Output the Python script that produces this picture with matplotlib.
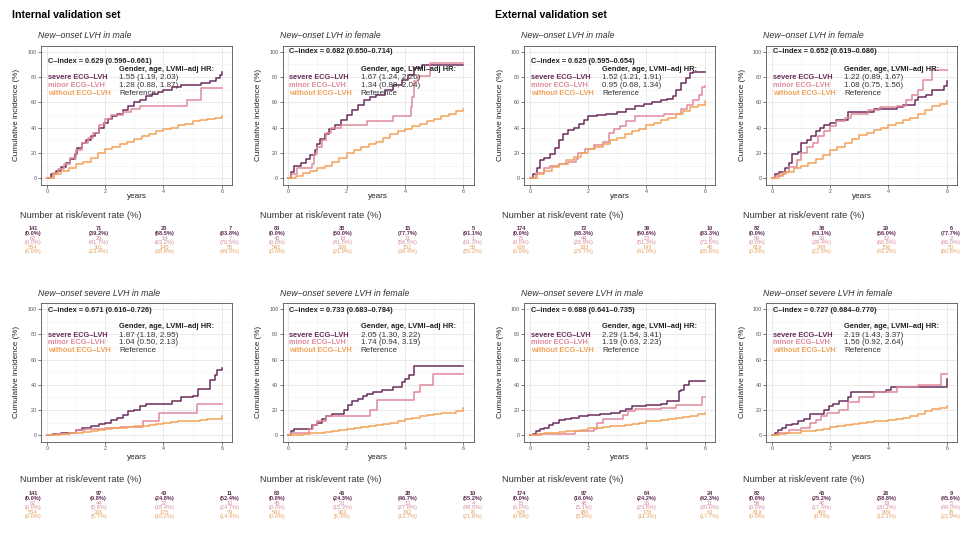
import matplotlib.pyplot as plt
import numpy as np

plt.rcParams['font.family'] = ['Liberation Sans', 'DejaVu Sans']

# quarter-year time grid used for the smooth "without ECG-LVH" curves
quarter_years = np.linspace(0, 6, 25)

# ---- cumulative incidence (%) step curves: (times, values) ----
# Internal, new-onset LVH, male
a_sev = ([0, 0.15, 0.3, 0.5, 0.65, 0.8, 0.95, 1.05, 1.2, 1.35, 1.5, 1.65, 1.8, 1.95, 2.1, 2.25, 2.4, 2.6,
          2.8, 3.0, 3.2, 3.4, 3.6, 3.8, 4.0, 4.3, 4.6, 5.0, 5.3, 5.6, 5.8, 5.95, 6.0],
         [0, 3, 6, 9, 12, 15, 19, 24, 28, 30, 33, 36, 40, 44, 47, 49, 51, 54, 57, 60, 62, 65, 67, 68, 70,
          72, 74, 74, 75, 77, 79, 82, 84])
a_min = ([0, 0.2, 0.4, 0.6, 0.8, 1.0, 1.2, 1.4, 1.6, 1.8, 2.0, 2.2, 2.6, 2.9, 3.2, 4.8, 5.3, 6.0],
         [0, 4, 7, 11, 16, 22, 28, 32, 36, 42, 47, 50, 52, 55, 57, 62, 71, 71])
a_wo = [0, 3, 6, 8, 11, 13, 16, 20, 23, 25, 27, 29, 31, 33, 35, 37, 39, 40, 42, 43, 45, 46, 47, 48, 49]
# Internal, new-onset LVH, female
b_sev = ([0, 0.1, 0.2, 0.45, 0.6, 0.75, 0.9, 1.0, 1.1, 1.25, 1.4, 1.6, 1.8, 2.0, 2.2, 2.4, 2.6, 2.8, 3.0,
          3.3, 3.6, 3.9, 4.1, 4.3, 4.6, 6.0],
         [0, 5, 10, 12, 15, 18, 22, 27, 31, 35, 39, 42, 46, 50, 54, 58, 62, 64, 66, 70, 74, 78, 82, 87,
          89.5, 89.5])
b_min = ([0, 0.1, 0.3, 0.8, 0.87, 1.0, 1.15, 1.3, 1.45, 1.8, 2.7, 3.6, 4.2, 4.25, 4.3, 4.45, 4.85, 6.0],
         [0, 3, 8, 11, 19, 25, 30, 36, 40, 42, 45.5, 49, 56.5, 64, 77, 81, 91, 91])
b_wo = [0, 2, 4, 6, 8, 10, 13, 16, 20, 22, 25, 27, 29, 32, 35, 37, 39, 41, 43, 45, 47, 49, 51, 53, 55]
# External, new-onset LVH, male
c_sev = ([0, 0.1, 0.25, 0.35, 0.5, 0.7, 0.85, 1.0, 1.15, 1.3, 1.5, 1.7, 1.85, 2.0, 2.3, 2.6, 3.0, 3.3,
          3.6, 3.9, 4.2, 4.5, 4.7, 4.9, 5.0, 5.2, 5.35, 5.5, 5.6, 6.0],
         [0, 3, 8, 14, 16, 19, 24, 30, 35, 38, 40, 43, 46, 49, 50, 51, 52, 55, 57, 59, 60, 62, 63, 65, 70,
          75, 79, 83, 84, 84])
c_min = ([0, 0.2, 0.5, 0.7, 1.0, 1.3, 1.6, 1.65, 1.9, 2.2, 2.5, 2.7, 2.9, 3.1, 3.3, 3.6, 4.3, 4.6, 5.2,
          5.4, 5.6, 5.8, 5.9, 6.0],
         [0, 4, 8, 10, 11, 13, 15, 20, 23, 26, 29, 36, 39, 41, 45, 49, 49, 51, 55, 58, 62, 66, 72, 73])
c_wo = [0, 3, 6, 9, 11, 14, 17, 20, 23, 25, 27, 30, 32, 35, 37, 39, 42, 44, 46, 48, 51, 53, 56, 58, 61]
# External, new-onset LVH, female
d_sev = ([0, 0.1, 0.25, 0.45, 0.6, 0.7, 0.9, 1.0, 1.2, 1.35, 1.5, 1.65, 1.8, 2.0, 2.2, 2.6, 3.0, 3.5,
          4.0, 4.3, 4.5, 4.9, 5.0, 5.3, 5.5, 5.9, 6.0],
         [0, 3, 5, 8, 12, 19, 21, 28, 30, 33, 37, 40, 42, 44, 46, 52, 52, 55, 55, 56, 58, 62, 64, 66, 70,
          73, 77])
d_min = ([0, 0.1, 0.4, 0.6, 0.85, 1.0, 1.2, 1.4, 1.6, 1.8, 2.0, 2.2, 2.5, 2.7, 3.3, 3.7, 4.3, 4.6, 4.8,
          5.0, 5.2, 5.5, 6.0],
         [0, 2, 5, 9, 14, 20, 25, 28, 33, 37, 41, 45, 48, 51, 54, 56, 57, 62, 66, 70, 78, 86, 86])
d_wo = [0, 3, 5, 8, 10, 12, 15, 18, 22, 25, 28, 31, 34, 36, 38, 40, 42, 44, 46, 48, 51, 54, 57, 59, 61]
# Internal, new-onset severe LVH, male
e_sev = ([0, 0.2, 0.5, 0.8, 1.0, 1.2, 1.5, 1.8, 2.0, 2.2, 2.4, 2.6, 2.8, 3.0, 3.2, 3.4, 4.1, 4.3, 4.6,
          5.0, 5.2, 5.6, 5.75, 5.85, 6.0],
         [0, 1, 1.5, 2, 4.5, 6, 7, 9, 10, 12, 14, 16, 19, 20, 23, 25, 25, 27, 30, 31, 37, 44, 48, 52, 53])
e_min = ([0, 0.3, 0.8, 1.0, 1.3, 2.0, 2.5, 3.3, 3.85, 5.15, 6.0],
         [0, 1, 2, 4, 5, 5.5, 6.5, 11, 18, 25, 25])
e_wo = [0, 0.5, 1, 1.5, 2, 2.5, 3, 4, 5, 5.5, 6, 6.5, 7, 7.5, 8, 9, 10, 10.5, 11, 11, 11.5, 12, 12.5, 13, 15]
# Internal, new-onset severe LVH, female
f_sev = ([0, 0.1, 0.2, 0.7, 0.8, 1.0, 1.15, 1.3, 1.5, 1.9, 2.05, 2.2, 2.4, 2.55, 2.7, 2.9, 3.2, 3.6,
          3.9, 4.0, 4.15, 4.3, 6.0],
         [0, 3, 5, 5, 8, 10, 13, 15, 17, 20, 24, 27, 29, 31, 33, 34, 36, 38, 42, 45, 48, 55, 55])
f_min = ([0, 0.1, 0.7, 0.85, 1.0, 1.3, 2.8, 3.05, 4.3, 4.5, 4.95, 6.0],
         [0, 2, 5, 8, 11, 15.5, 20, 28, 34, 40, 48.5, 48.5])
f_wo = [0, 0.5, 1, 1.5, 2, 2.5, 3, 4, 5, 5.5, 6.5, 7, 8, 9, 10, 11, 13, 14, 15, 16, 17, 17.5, 18, 19, 22]
# External, new-onset severe LVH, male
g_sev = ([0, 0.1, 0.2, 0.35, 0.5, 0.65, 0.8, 1.0, 1.2, 1.4, 1.7, 2.0, 2.4, 2.8, 3.1, 3.3, 3.5, 3.7, 4.0,
          4.5, 4.7, 5.1, 5.2, 5.3, 5.45, 6.0],
         [0, 1, 3, 5, 6, 8, 10, 12, 13, 14, 15, 16, 17, 18, 19, 21, 23, 23, 24, 25, 27, 35, 36, 40, 43, 43])
g_min = ([0, 0.4, 1.55, 2.2, 2.3, 2.5, 3.2, 3.35, 3.6, 4.5, 5.0, 5.9, 6.0],
         [0, 1, 3, 5, 10, 13, 16, 19, 21, 22, 24, 30, 30])
g_wo = [0, 1, 1.5, 2, 2.5, 3, 3.5, 4, 5.5, 6, 6.5, 7, 7.5, 8, 9, 10, 11, 11.5, 12, 13, 13.5, 14.5, 15.5,
        16.5, 18]
# External, new-onset severe LVH, female
h_sev = ([0, 0.1, 0.2, 0.35, 0.5, 0.7, 0.9, 1.1, 1.3, 1.6, 1.8, 1.95, 2.1, 2.3, 2.6, 2.7, 3.5, 3.9, 4.1,
          5.95, 6.0],
         [0, 2, 4, 6, 8, 9, 11, 13, 17, 17, 20, 23, 25, 27, 30, 34, 34, 36, 38, 38, 45])
h_min = ([0, 0.2, 0.6, 1.0, 1.3, 1.5, 1.7, 1.9, 2.3, 2.6, 3.0, 3.5, 4.0, 4.3, 5.0, 5.5, 5.8, 6.0],
         [0, 2, 4, 6, 10, 12, 15, 18, 20, 26, 30, 34, 34, 38, 40, 40, 49, 49])
h_wo = [0, 1, 1.5, 2, 3, 3.5, 4, 5, 6.5, 7, 8, 9, 10, 10.5, 11, 11.5, 12, 12.5, 13.5, 15, 17, 19, 21, 22, 23]

# ---- number at risk / event rate (%) at years 0, 2, 4, 6 (severe, minor, without) ----
table_years = [0, 2, 4, 6]
risk_a = [[141, 71, 23, 7], [62, 29, 14, 7], [554, 301, 140, 55]]
rate_a = [[0.0, 39.2, 68.5, 83.8], [0.0, 41.7, 63.2, 70.5], [0.0, 23.4, 38.8, 49.0]]
risk_b = [[80, 35, 15, 5], [45, 18, 11, 1], [541, 326, 151, 55]]
rate_b = [[0.0, 50.0, 77.7, 91.1], [0.0, 41.5, 56.5, 91.3], [0.0, 21.9, 39.4, 55.2]]
risk_c = [[174, 72, 39, 10], [75, 44, 23, 6], [626, 333, 143, 40]]
rate_c = [[0.0, 48.3, 60.6, 83.3], [0.0, 26.9, 51.3, 72.5], [0.0, 25.7, 41.9, 60.6]]
risk_d = [[82, 36, 20, 6], [59, 33, 12, 2], [619, 349, 156, 50]]
rate_d = [[0.0, 43.1, 56.0, 77.7], [0.0, 38.4, 60.6, 86.0], [0.0, 22.5, 41.2, 60.6]]
risk_e = [[141, 97, 40, 11], [62, 44, 22, 10], [554, 336, 175, 79]]
rate_e = [[0.0, 9.8, 24.8, 52.4], [0.0, 5.6, 18.4, 24.7], [0.0, 5.7, 10.2, 14.4]]
risk_f = [[80, 46, 28, 10], [45, 23, 13, 4], [541, 363, 192, 76]]
rate_f = [[0.0, 24.3, 46.7, 55.2], [0.0, 15.3, 27.8, 48.5], [0.0, 5.3, 13.7, 21.8]]
risk_g = [[174, 97, 64, 24], [75, 48, 26, 11], [626, 380, 176, 63]]
rate_g = [[0.0, 16.0, 24.2, 42.3], [0.0, 5.1, 23.6, 30.0], [0.0, 5.9, 11.3, 17.7]]
risk_h = [[82, 45, 26, 9], [59, 40, 19, 5], [619, 400, 209, 78]]
rate_h = [[0.0, 25.2, 38.8, 45.6], [0.0, 17.4, 30.2, 49.0], [0.0, 6.7, 12.1, 22.9]]

titles = ['New–onset LVH in male', 'New–onset LVH in female',
          'New–onset LVH in male', 'New–onset LVH in female',
          'New–onset severe LVH in male', 'New–onset severe LVH in female',
          'New–onset severe LVH in male', 'New–onset severe LVH in female']
cindex = ['0.629 (0.596–0.661)', '0.682 (0.650–0.714)', '0.625 (0.595–0.654)', '0.652 (0.619–0.686)',
          '0.671 (0.616–0.726)', '0.733 (0.683–0.784)', '0.688 (0.641–0.735)', '0.727 (0.684–0.770)']
hr_severe = ['1.55 (1.19, 2.03)', '1.67 (1.24, 2.26)', '1.52 (1.21, 1.91)', '1.22 (0.89, 1.67)',
             '1.87 (1.18, 2.95)', '2.05 (1.30, 3.22)', '2.29 (1.54, 3.41)', '2.19 (1.43, 3.37)']
hr_minor = ['1.28 (0.88, 1.87)', '1.34 (0.88, 2.04)', '0.95 (0.68, 1.34)', '1.08 (0.75, 1.56)',
            '1.04 (0.50, 2.13)', '1.74 (0.94, 3.19)', '1.19 (0.63, 2.23)', '1.56 (0.92, 2.64)']
groups = ['severe ECG–LVH', 'minor ECG–LVH', 'without ECG–LVH']
colors = ['#6b2d5c', '#e0899b', '#f2a35a']
table_colors = ['#5e2a52', '#d88a9a', '#e3a060']

curves = [(a_sev, a_min, a_wo), (b_sev, b_min, b_wo), (c_sev, c_min, c_wo), (d_sev, d_min, d_wo),
          (e_sev, e_min, e_wo), (f_sev, f_min, f_wo), (g_sev, g_min, g_wo), (h_sev, h_min, h_wo)]
risks = [risk_a, risk_b, risk_c, risk_d, risk_e, risk_f, risk_g, risk_h]
rates = [rate_a, rate_b, rate_c, rate_d, rate_e, rate_f, rate_g, rate_h]
cindex_y = [92, 100, 92, 100, 99, 99, 99, 99]

# ---- layout (pixels) ----
W, H = 963, 544
fig = plt.figure(figsize=(W / 100, H / 100), dpi=100)


def box(x0, y0, x1, y1):
    return [x0 / W, 1 - y1 / H, (x1 - x0) / W, (y1 - y0) / H]


col_left = [41, 282.5, 524, 766]
row_span = [(45.5, 184.5), (303, 441.5)]
table_col0 = [33, 277, 521, 757]
table_width = [197, 196, 189, 194]
table_span = [(226.7, 254), (491.7, 519)]
header_x = [20, 260, 502, 743]
header_y = [215, 480]
subtitle_y = [35, 293]
years_gap = [12, 16]

fig.text(12 / W, 1 - 15 / H, 'Internal validation set', fontsize=7.6, fontweight='bold', va='center')
fig.text(495 / W, 1 - 15 / H, 'External validation set', fontsize=7.6, fontweight='bold', va='center')

for i in range(8):
    row, col = divmod(i, 4)
    top, bottom = row_span[row]
    x0 = col_left[col]
    ax = fig.add_axes(box(x0, top, x0 + 191, bottom))
    sev, mnr, wo = curves[i]
    ax.step(sev[0], sev[1], where='post', color=colors[0], lw=1.1, zorder=3)
    ax.step(mnr[0], mnr[1], where='post', color=colors[1], lw=1.1, zorder=3)
    ax.step(quarter_years, wo, where='post', color=colors[2], lw=1.1, zorder=3)

    ax.set_xlim(-0.2, 6.35)
    ax.set_ylim(-5, 105)
    ax.set_xticks([0, 2, 4, 6])
    ax.set_yticks([0, 20, 40, 60, 80, 100])
    ax.set_xticks([1, 3, 5], minor=True)
    ax.set_yticks([10, 30, 50, 70, 90], minor=True)
    ax.grid(which='major', color='#e6e6e6', lw=0.6)
    ax.grid(which='minor', color='#f0f0f0', lw=0.4)
    ax.set_axisbelow(True)
    ax.tick_params(which='major', length=2, width=0.5, color='#444444', labelcolor='#555555',
                   labelsize=3.9, pad=1)
    ax.tick_params(which='minor', length=0)
    for s in ax.spines.values():
        s.set_color('#555555')
        s.set_linewidth(0.6)

    ax.set_ylabel('Cumulative incidence (%)', fontsize=5.9, color='#222222')
    ax.yaxis.set_label_coords(-24 / 191, 0.5)
    ax.yaxis.label.set_va('center')
    ax.set_xlabel('years', fontsize=5.9, color='#222222')
    ax.xaxis.set_label_coords(0.5, -years_gap[row] / (bottom - top))
    ax.xaxis.label.set_va('center')

    fig.text((x0 - 3) / W, 1 - subtitle_y[row] / H, titles[i], fontsize=6.3, style='italic',
             color='#333333', va='center')

    ax.text(0.03, cindex_y[i], 'C–index = ' + cindex[i], fontsize=5.3, fontweight='bold',
            color='#222222', va='center')
    ax.text(2.48, 86, 'Gender, age, LVMI–adj HR:', fontsize=5.4, fontweight='bold',
            color='#222222', va='center')
    label_y = [79.5, 73.3, 67]
    hr_text = [hr_severe[i], hr_minor[i], 'Reference']
    for g in range(3):
        ax.text(0.03, label_y[g], groups[g], fontsize=5.3, fontweight='bold', color=colors[g], va='center')
        ax.text(2.48, label_y[g], hr_text[g], fontsize=5.8, color='#333333', va='center')

    # risk table
    fig.text(header_x[col] / W, 1 - header_y[row] / H, 'Number at risk/event rate (%)', fontsize=6.7,
             color='#333333', va='center')
    t_top, t_bot = table_span[row]
    pxy = table_width[col] / 6
    c0 = table_col0[col]
    tax = fig.add_axes(box(c0 - 0.5 * pxy, t_top, c0 + 6.5 * pxy, t_bot))
    tax.set_xlim(-0.5, 6.5)
    tax.set_ylim(5.5, -0.5)
    tax.axis('off')
    for g in range(3):
        for k, yr in enumerate(table_years):
            tax.text(yr, 2 * g, str(risks[i][g][k]), fontsize=4.1, color=table_colors[g],
                     ha='center', va='center', fontweight='bold' if g == 0 else 'normal')
            tax.text(yr, 2 * g + 1, '(%.1f%%)' % rates[i][g][k], fontsize=4.1, color=table_colors[g],
                     ha='center', va='center', fontweight='bold' if g == 0 else 'normal')

fig.savefig('out.png', dpi=100)
